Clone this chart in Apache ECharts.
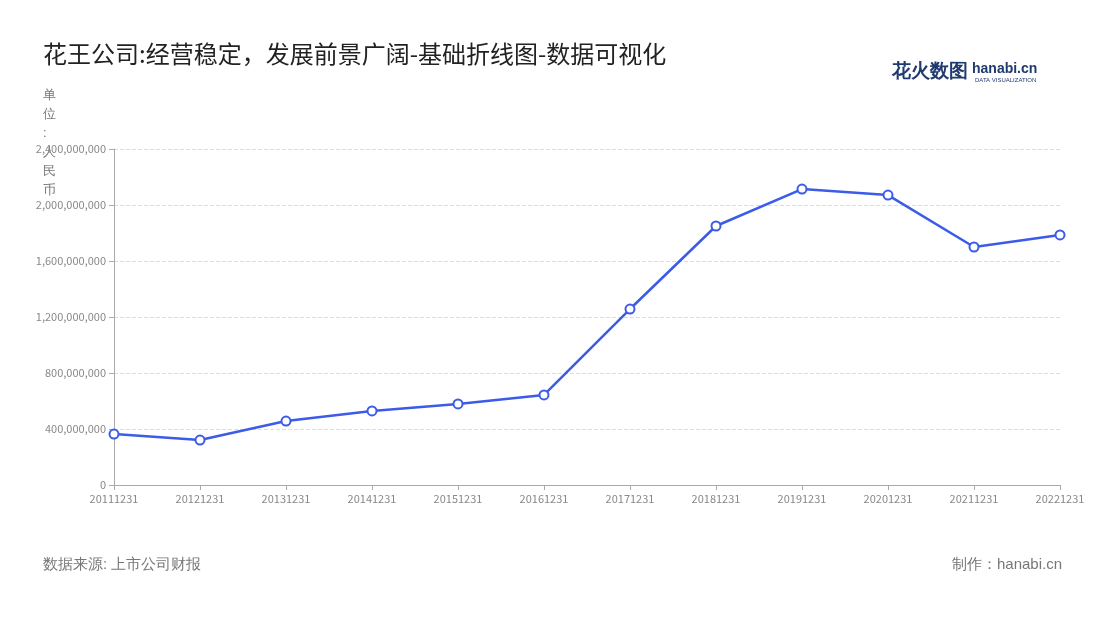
<!DOCTYPE html>
<html><head><meta charset="utf-8">
<script src="https://cdn.jsdelivr.net/npm/echarts@6/dist/echarts.min.js"></script>
<style>html,body{margin:0;padding:0;background:#fff}#c{width:1100px;height:620px}</style>
</head><body><div id="c"></div>
<script>
const categories = ['20111231','20121231','20131231','20141231','20151231','20161231','20171231','20181231','20191231','20201231','20211231','20221231'];
const values = [364000000,321000000,457000000,529000000,579000000,643000000,1257000000,1850000000,2114000000,2071000000,1700000000,1786000000];
const chart = echarts.init(document.getElementById('c'));
chart.setOption({
  backgroundColor:'#fff',
  textStyle:{fontFamily:'Noto Sans CJK SC'},
  title:{text:'花王公司:经营稳定，发展前景广阔-基础折线图-数据可视化',left:38,top:37,textStyle:{fontSize:24,fontWeight:'normal',color:'#222'}},
  graphic:[
    {type:'text',left:892,top:62,style:{text:'花火数图',fontSize:19,fontWeight:'bold',fill:'#1f3a6e'}},
    {type:'text',left:972,top:62,style:{text:'hanabi.cn',fontSize:14,fontWeight:'bold',fill:'#1f3a6e'}},
    {type:'text',left:975,top:77,style:{text:'DATA VISUALIZATION',fontSize:6,fill:'#1f3a6e'}},
    {type:'text',left:43,top:557,style:{text:'数据来源: 上市公司财报',fontSize:15,fill:'#777'}},
    {type:'text',right:38,top:557,style:{text:'制作：hanabi.cn',fontSize:15,fill:'#777'}},
    {type:'text',left:43,top:86,style:{text:'单\n位\n:\n人\n民\n币',fontSize:13,fill:'#777',lineHeight:19}}
  ],
  grid:{left:114,right:40,top:149,bottom:135},
  xAxis:{type:'category',data:categories,boundaryGap:false,
    axisLine:{lineStyle:{color:'#aaa'}},axisTick:{show:true,alignWithLabel:true,lineStyle:{color:'#aaa'}},
    axisLabel:{color:'#888',fontSize:11,interval:0}},
  yAxis:{type:'value',min:0,max:2400000000,interval:400000000,
    axisLine:{show:true,lineStyle:{color:'#aaa'}},axisTick:{show:true,lineStyle:{color:'#aaa'}},
    axisLabel:{color:'#888',fontSize:11,formatter:v=>v.toLocaleString('en-US')},
    splitLine:{lineStyle:{type:'dashed',color:'#ddd'}}},
  series:[{type:'line',data:values,symbol:'circle',symbolSize:9,
    lineStyle:{color:'#3b5be8',width:2.5},
    itemStyle:{color:'#fff',borderColor:'#3b5be8',borderWidth:2}}]
});
</script></body></html>
